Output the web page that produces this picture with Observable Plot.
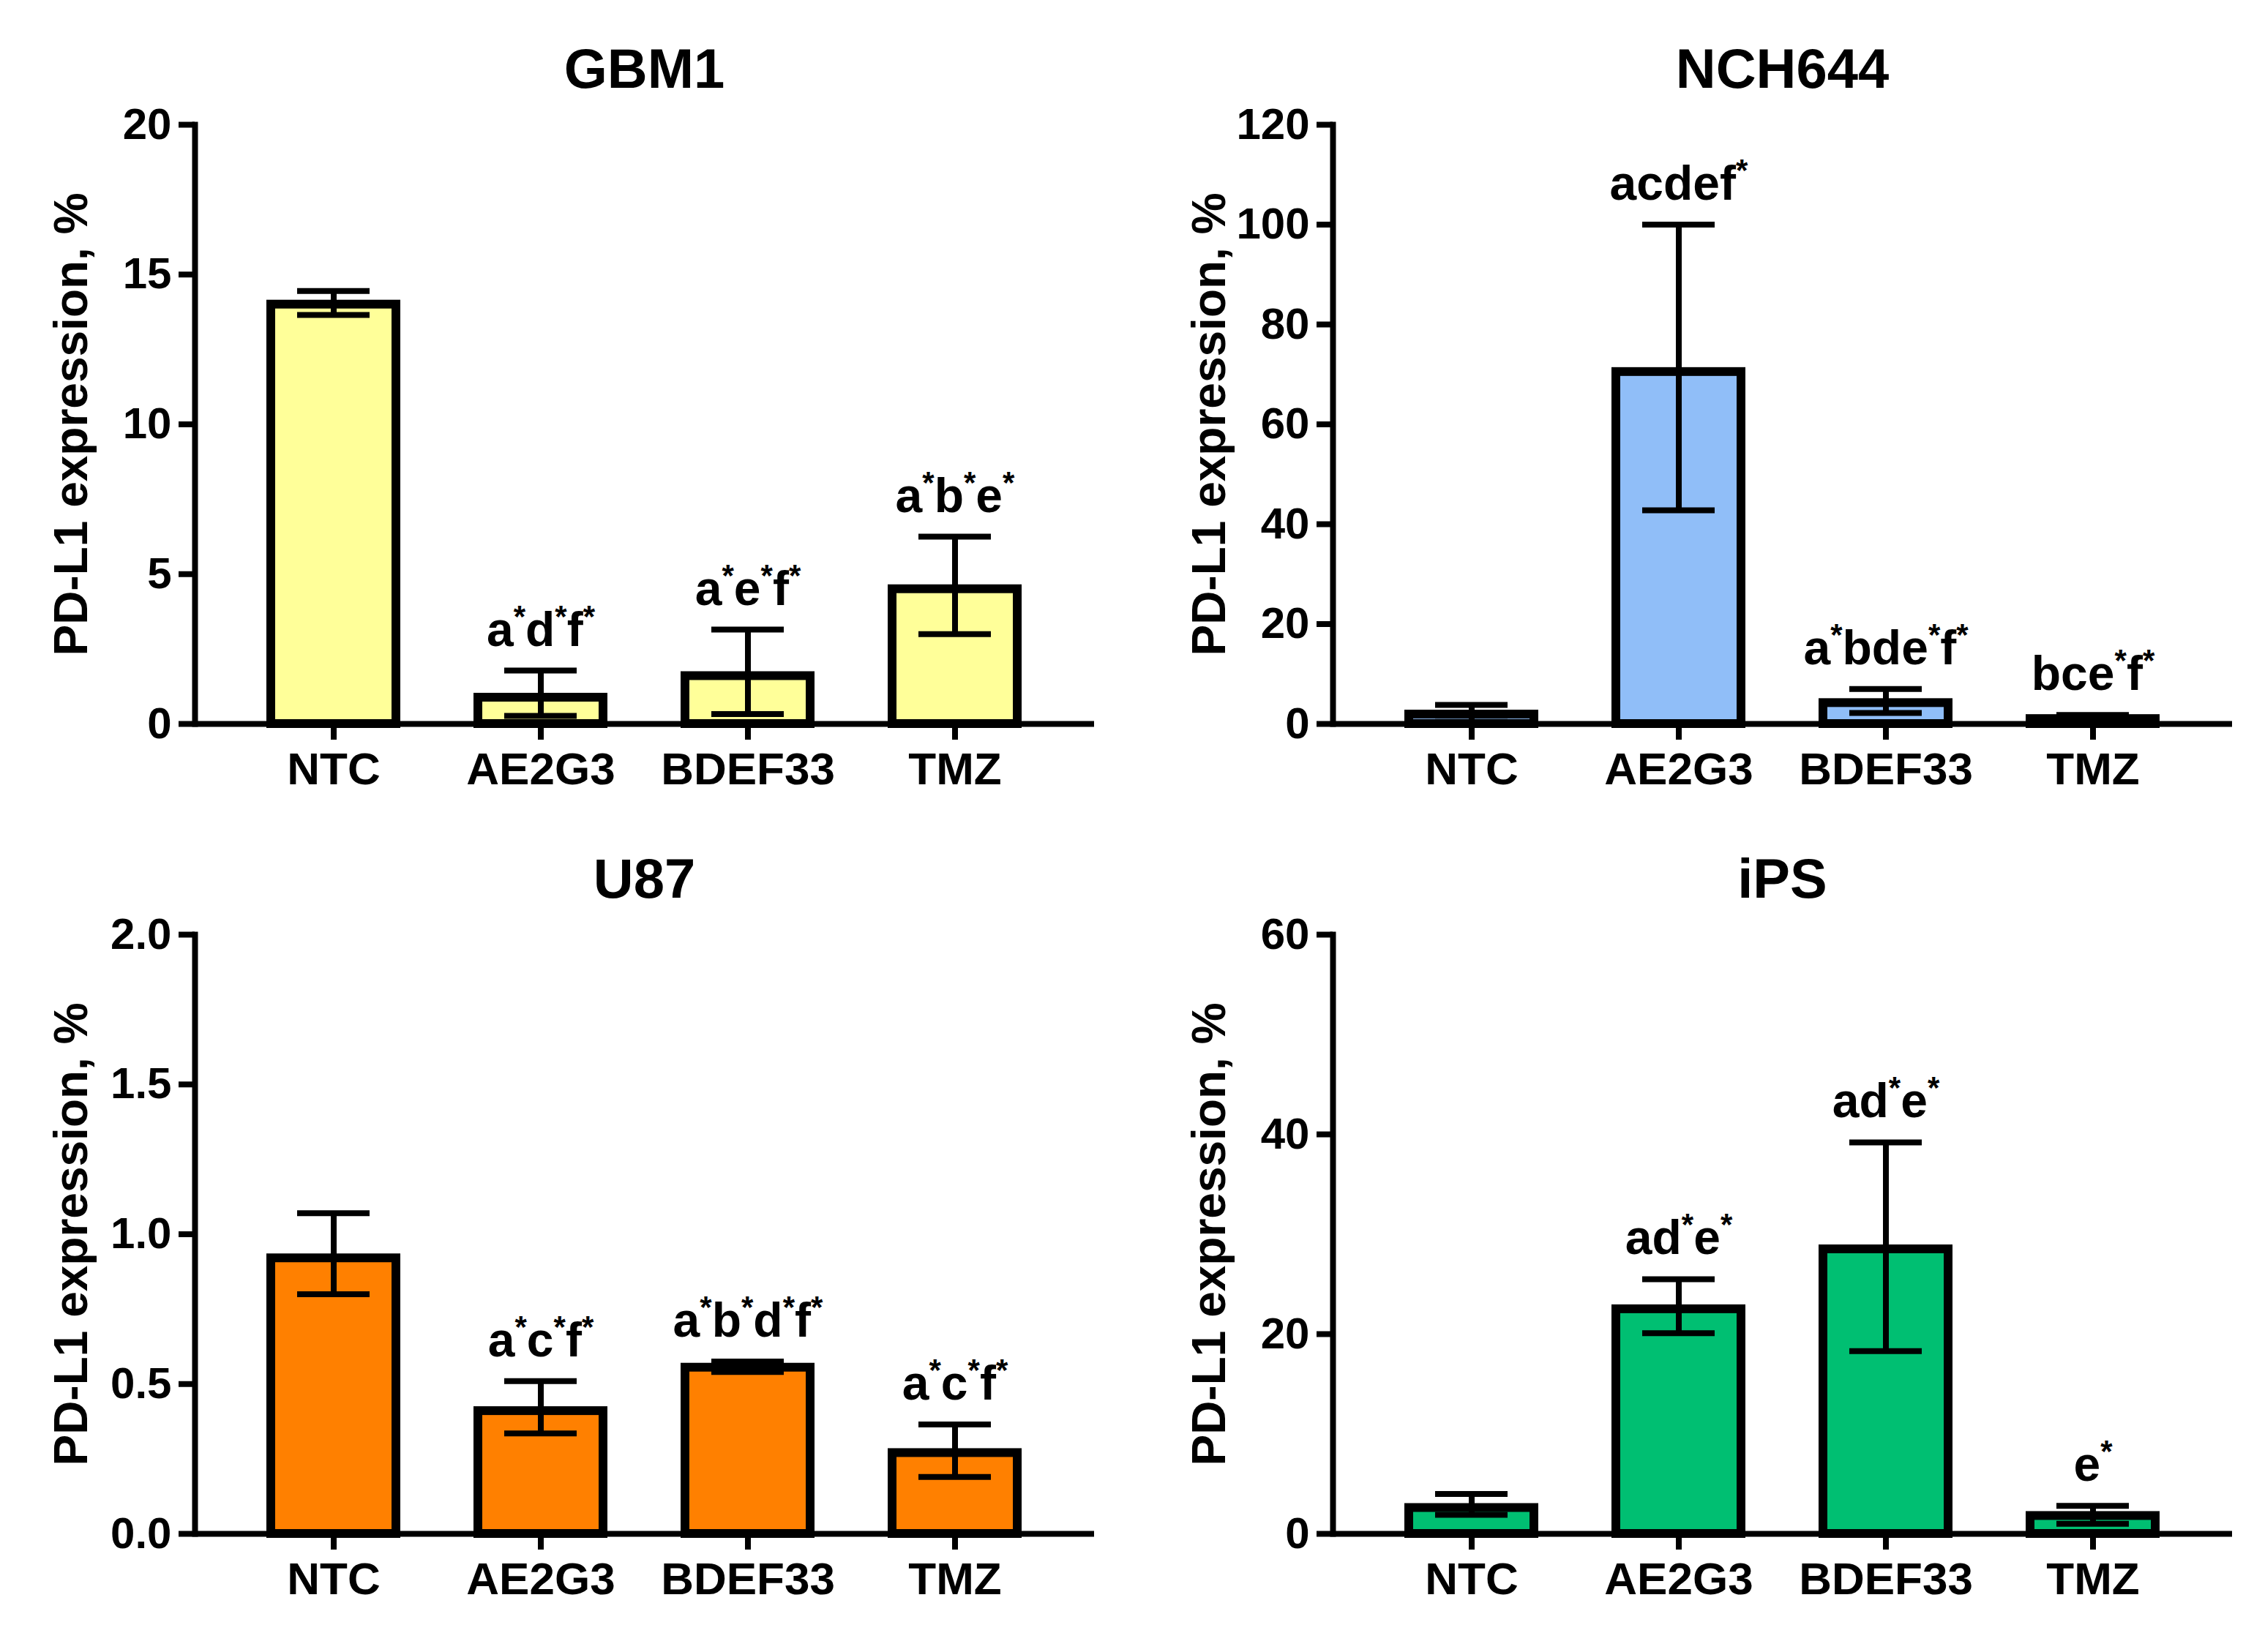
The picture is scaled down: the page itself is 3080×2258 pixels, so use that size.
<!DOCTYPE html>
<html>
<head>
<meta charset="utf-8">
<script src="https://cdn.jsdelivr.net/npm/d3@7"></script>
<script src="https://cdn.jsdelivr.net/npm/@observablehq/plot@0.6"></script>
<style>
  body { margin: 0; background: #fff; }
  #fig { position: relative; width: 3080px; height: 2258px; background: #fff; }
  .title {
    position: absolute; text-align: center;
    font: bold 76px "Liberation Sans", Arial, sans-serif; line-height: 76px; color: #000;
  }
  .panel { position: absolute; }
</style>
</head>
<body>
<div id="fig"></div>
<script>
// groups on the x axis (same for every cell line)
const groups = ["NTC", "AE2G3", "BDEF33", "TMZ"];

// GBM1
const gbm1Mean  = [14.0, 0.88, 1.6, 4.5];
const gbm1Upper = [14.45, 1.78, 3.15, 6.25];
const gbm1Lower = [13.65, 0.27, 0.33, 3.0];
const gbm1Marks = ["", "a*d*f*", "a*e*f*", "a*b*e*"];
const gbm1Ticks = [0, 5, 10, 15, 20];

// NCH644
const nchMean  = [1.9, 70.5, 4.2, 1.0];
const nchUpper = [3.8, 100, 7.0, 1.8];
const nchLower = [0.4, 42.8, 2.2, 0.3];
const nchMarks = ["", "acdef*", "a*bde*f*", "bce*f*"];
const nchTicks = [0, 20, 40, 60, 80, 100, 120];

// U87
const u87Mean  = [0.92, 0.41, 0.555, 0.27];
const u87Upper = [1.07, 0.51, 0.575, 0.365];
const u87Lower = [0.80, 0.335, 0.54, 0.19];
const u87Marks = ["", "a*c*f*", "a*b*d*f*", "a*c*f*"];
const u87Ticks = [0, 0.5, 1.0, 1.5, 2.0];

// iPS
const ipsMean  = [2.6, 22.5, 28.5, 1.8];
const ipsUpper = [4.0, 25.5, 39.2, 2.8];
const ipsLower = [1.9, 20.1, 18.3, 1.0];
const ipsMarks = ["", "ad*e*", "ad*e*", "e*"];
const ipsTicks = [0, 20, 40, 60];

const yLabel = "PD-L1 expression, %";

const panels = [
  {title: "GBM1",   mean: gbm1Mean, upper: gbm1Upper, lower: gbm1Lower, marks: gbm1Marks, ticks: gbm1Ticks, fmt: d3.format("d"),   fill: "#FFFF99", left: 0,    top: 150},
  {title: "NCH644", mean: nchMean,  upper: nchUpper,  lower: nchLower,  marks: nchMarks,  ticks: nchTicks,  fmt: d3.format("d"),   fill: "#90BEF8", left: 1555, top: 150},
  {title: "U87",    mean: u87Mean,  upper: u87Upper,  lower: u87Lower,  marks: u87Marks,  ticks: u87Ticks,  fmt: d3.format(".1f"), fill: "#FF8000", left: 0,    top: 1257},
  {title: "iPS",    mean: ipsMean,  upper: ipsUpper,  lower: ipsLower,  marks: ipsMarks,  ticks: ipsTicks,  fmt: d3.format("d"),   fill: "#00BF72", left: 1555, top: 1257}
];

const W = 1525, mL = 266, mR = 30, mT = 20, mB = 150, frameH = 819;

// turn every "*" in a text into a small raised asterisk
function superAsterisks(svg) {
  d3.select(svg).selectAll("text")
    .filter(function() { return this.textContent.includes("*"); })
    .each(function() {
      const t = d3.select(this);
      const s = this.textContent;
      t.text(null);
      let up = false;
      for (const ch of s) {
        if (ch === "*") {
          t.append("tspan").attr("dy", up ? 0 : -26).attr("font-size", 42).text("*");
          up = true;
        } else {
          t.append("tspan").attr("dy", up ? 26 : 0).text(ch);
          up = false;
        }
      }
    });
}

const fig = d3.select("#fig");

for (const p of panels) {
  const rows = groups.map((g, i) => ({group: g, mean: p.mean[i], upper: p.upper[i], lower: p.lower[i], mark: p.marks[i]}));

  fig.append("div")
    .attr("class", "title")
    .style("left", (p.left + mL) + "px")
    .style("top", (p.top - 94) + "px")
    .style("width", (W - mL - mR) + "px")
    .text(p.title);

  const chart = Plot.plot({
    width: W,
    height: mT + frameH + mB,
    marginLeft: mL,
    marginRight: mR,
    marginTop: mT,
    marginBottom: mB,
    style: {fontFamily: "Liberation Sans, Arial, sans-serif", fontWeight: "bold", fontSize: "58px", color: "#000", background: "#fff", overflow: "visible"},
    x: {domain: groups, paddingInner: 0.394, paddingOuter: 0.3625, label: null},
    y: {domain: [p.ticks[0], p.ticks[p.ticks.length - 1]], label: null},
    marks: [
      Plot.barY(rows, {x: "group", y: "mean", fill: p.fill, stroke: "#000", strokeWidth: 12, inset: 0}),
      Plot.ruleX(rows, {x: "group", y1: "lower", y2: "upper", stroke: "#000", strokeWidth: 8}),
      Plot.tickY(rows, {x: "group", y: "upper", stroke: "#000", strokeWidth: 8, insetLeft: 36, insetRight: 36}),
      Plot.tickY(rows, {x: "group", y: "lower", stroke: "#000", strokeWidth: 8, insetLeft: 36, insetRight: 36}),
      Plot.text(rows.filter(d => d.mark), {x: "group", y: "upper", text: "mark", lineAnchor: "bottom", dy: -34, fontSize: 66}),
      Plot.ruleY([0], {stroke: "#000", strokeWidth: 8}),
      Plot.frame({anchor: "left", stroke: "#000", strokeWidth: 8}),
      Plot.axisY({ticks: p.ticks, tickFormat: p.fmt, tickSize: 22, tickPadding: 10, strokeWidth: 8, fontSize: 60, label: null}),
      Plot.axisX({tickSize: 22, tickPadding: 16, strokeWidth: 8, fontSize: 62, label: null}),
      Plot.text([yLabel], {frameAnchor: "left", textAnchor: "middle", rotate: -90, dx: -168, fontSize: 64})
    ]
  });
  superAsterisks(chart);

  fig.append("div")
    .attr("class", "panel")
    .style("left", p.left + "px")
    .style("top", p.top + "px")
    .node().append(chart);
}
</script>
</body>
</html>
